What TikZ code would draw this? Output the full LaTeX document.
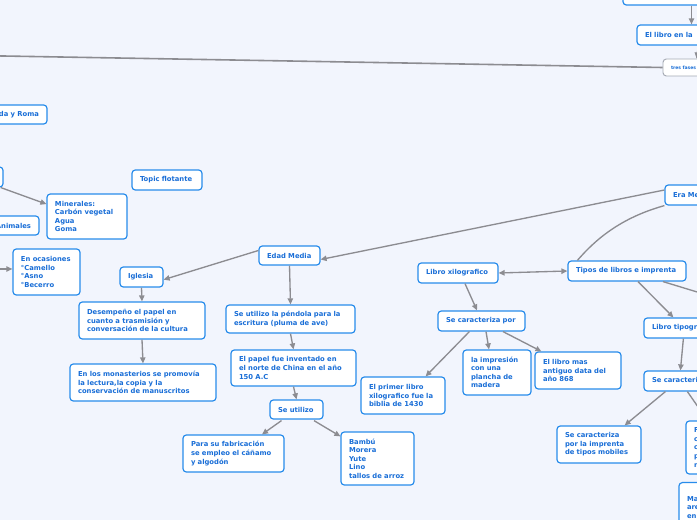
\documentclass[tikz,border=0pt]{standalone}
\usepackage{fontspec}
\setmainfont{DejaVu Sans}
\usetikzlibrary{arrows.meta,calc}

\definecolor{mapbg}{RGB}{242,245,253}
\definecolor{topicline}{RGB}{40,140,235}
\definecolor{topictext}{RGB}{25,110,215}
\definecolor{linkgray}{RGB}{140,140,145}
\definecolor{fasegray}{RGB}{165,170,180}

\tikzset{
  topic/.style={draw=topicline, fill=white, rounded corners=2.5pt, line width=0.9pt,
    text=topictext, font=\fontsize{5.1}{6.4}\selectfont\bfseries,
    inner xsep=6pt, inner ysep=0pt, align=left},
  link/.style={draw=linkgray, line width=1pt, -{Triangle[length=4.5pt,width=4pt]}},
  plainlink/.style={draw=linkgray, line width=1pt},
}

\begin{document}
\begin{tikzpicture}[x=0.75pt,y=0.75pt,yscale=-1,xscale=1]
\useasboundingbox (0,0) rectangle (697,520);
\fill[mapbg] (0,0) rectangle (697,520);
\clip (0,0) rectangle (697,520);

% top right branch
\node[topic, text width=90.75pt, minimum height=15pt] (cimabox) at (691.5,-5) {};
\node[topic, text width=80.25pt, minimum height=15pt] (libro) at (698.5,35) {El libro en la};
\node[topic, draw=fasegray, line width=0.7pt, text width=38.25pt, minimum height=12.75pt,
  font=\fontsize{3.4}{4}\selectfont\bfseries] (fases) at (696.5,67.5) {tres fases};

% left side (cut off)
\node[topic, text width=68.25pt, minimum height=14.25pt, align=right] (roma) at (-6.5,114.5) {da y Roma};
\node[topic, text width=35.25pt, minimum height=15pt] (izqbox) at (-28.5,177) {};
\node[topic, text width=47.25pt, minimum height=14.25pt, align=right] (animales) at (-0.5,225.5) {Animales};
\node[topic, text width=48pt, minimum height=33.75pt] (minerales) at (87,216.5)
  {Minerales:\\*Carbón vegetal\\*Agua\\*Goma};
\node[topic, text width=40.5pt, minimum height=15pt] (flotante) at (167,180) {Topic flotante};
\node[topic, text width=38.25pt, minimum height=34.5pt] (ocasiones) at (46.5,272)
  {En ocasiones\\°Camello\\°Asno\\°Becerro};
\coordinate (izqlink) at (-20,269);

% Edad Media
\node[topic, text width=33.75pt, minimum height=14.25pt] (edadmedia) at (289.5,255.5) {Edad Media};
\node[topic, text width=20.25pt, minimum height=15pt] (iglesia) at (141.5,277) {Iglesia};
\node[topic, text width=82.5pt, minimum height=27.75pt] (desempeno) at (142,320.5)
  {Desempeño el papel en\\cuanto a trasmisión y\\conversación de la cultura};
\node[topic, text width=97.5pt, minimum height=27.75pt] (monasterios) at (143,382.5)
  {En los monasterios se promovía\\la lectura,la copia y la\\conservación de manuscritos};
\node[topic, text width=84.75pt, minimum height=21pt] (pendola) at (290.5,319)
  {Se utilizo la péndola para la\\escritura (pluma de ave)};
\node[topic, text width=81.75pt, minimum height=27pt] (papel) at (293.5,368)
  {El papel fue inventado en\\el norte de China en el año\\150 A.C};
\node[topic, text width=27.75pt, minimum height=14.25pt] (seutilizo) at (296.5,409.5) {Se utilizo};
\node[topic, text width=63.75pt, minimum height=27.75pt] (fabricacion) at (233.5,453.5)
  {Para su fabricación\\se empleo el cáñamo\\y algodón};
\node[topic, text width=42.75pt, minimum height=39.75pt] (bambu) at (377.5,458.5)
  {Bambú\\Morera\\Yute\\Lino\\tallos de arroz};

% Era Media / tipos de libros
\node[topic, text width=59.25pt, minimum height=15pt] (eramedia) at (712.5,195) {Era Media};
\node[topic, text width=76.5pt, minimum height=15pt] (tipos) at (627,271) {Tipos de libros e imprenta};
\node[topic, text width=48pt, minimum height=15pt] (xilo) at (458,273) {Libro xilografico};
\node[topic, text width=53.25pt, minimum height=15pt] (secaract) at (481.5,321) {Se caracteriza por};
\node[topic, text width=51pt, minimum height=27.75pt] (primer) at (403,395.5)
  {El primer libro\\xilografico fue la\\biblia de 1430};
\node[topic, text width=39pt, minimum height=33.75pt] (impresion) at (497,372.5)
  {la impresión\\con una\\plancha de\\madera};
\node[topic, text width=52.5pt, minimum height=27.75pt] (antiguo) at (578,370.5)
  {El libro mas\\antiguo data del\\año 868};
\node[topic, text width=75pt, minimum height=15pt] (tipografico) at (702,328) {Libro tipografico};
\node[topic, text width=75pt, minimum height=15pt] (secaracttipo) at (702,381) {Se caracteriza por};
\node[topic, text width=51pt, minimum height=27.75pt] (mobiles) at (599,444.5)
  {Se caracteriza\\por la imprenta\\de tipos mobiles};
\node[topic, text width=43.5pt, minimum height=39.75pt] (fbox) at (723,447.5)
  {F\\c\\c\\p\\m};
\node[topic, text width=48.75pt, minimum height=43.5pt, anchor=north] (mabox) at (719.5,482)
  {Ma\\are\\en\\fu};
\coordinate (derlink) at (730,302);
\coordinate (lejosizq) at (-20,55.6);

% connectors
\draw[link] (cimabox.south) -- (cimabox.south |- libro.north);
\draw[link] (libro.south) -- (fases.north);
\draw[plainlink, line width=1.2pt] (fases.west) -- (lejosizq);
\draw[link] (izqbox) -- (minerales.163);
\draw[link] (izqlink) -- (ocasiones.west |- izqlink);
\draw[link] ([yshift=-3.75pt]eramedia.west) -- ([yshift=3pt]edadmedia.east);
\draw[link] ([yshift=-3.75pt]edadmedia.west) -- ([yshift=2pt]iglesia.east);
\draw[link] (iglesia.south) -- (desempeno.north);
\draw[link] (desempeno.south) -- (monasterios.north);
\draw[link] (edadmedia.south) -- (pendola.north);
\draw[link] (pendola.south) -- (papel.north);
\draw[link] (papel.south) -- (seutilizo.north);
\draw[link] ($(seutilizo.south)+(-15,1)$) -- ($(fabricacion.north)+(28.5,0)$);
\draw[link] ($(seutilizo.south)+(17.5,1)$) -- ($(bambu.north west)+(0,5)$);
\draw[plainlink] (eramedia.south west) .. controls (620,218) and (595,240) .. ($(tipos.north west)+(10,0)$);
\draw[link, {Triangle[length=4.5pt,width=4pt]}-{Triangle[length=4.5pt,width=4pt]}] (xilo.east) -- (tipos.west);
\draw[link] ($(xilo.south)+(7,0)$) -- ($(secaract.north)+(-4.5,0)$);
\draw[link] ($(secaract.south west)+(32,0)$) -- ($(primer.north east)+(-20,0)$);
\draw[link] ($(secaract.south)+(4.5,0)$) -- ($(impresion.north)+(-8,0)$);
\draw[link] ($(secaract.south)+(21.5,0)$) -- ($(antiguo.north west)+(7,0)$);
\draw[link] ($(tipos.south)+(11,0)$) -- ($(tipografico.north west)+(30,0)$);
\draw[plainlink] ($(tipos.south)+(36,0)$) -- (derlink);
\draw[link] ($(tipografico.south west)+(40,0)$) -- ($(secaracttipo.north west)+(37,0)$);
\draw[link] ($(secaracttipo.south west)+(22,0)$) -- ($(mobiles.north east)+(-17,0)$);
\draw[link] ($(secaracttipo.south west)+(44,0)$) -- ($(fbox.north west)+(22,0)$);

\end{tikzpicture}
\end{document}
